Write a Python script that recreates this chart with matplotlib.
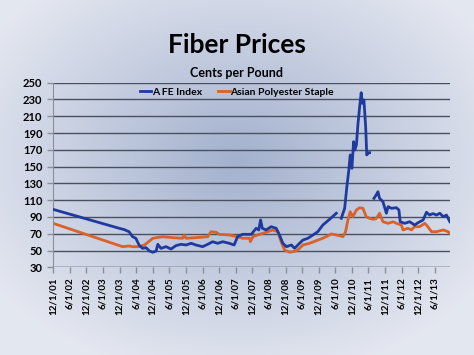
import numpy as np
import pandas as pd
import matplotlib
matplotlib.use('Agg')
from matplotlib import pyplot as plt

# A FE Index (NaN = gaps in the series)
afe_dates = ['2001-12-01', '2003-11-27', '2004-01-20', '2004-03-15', '2004-04-22', '2004-05-28',
             '2004-07-03', '2004-08-10', '2004-09-18', '2004-10-25', '2004-12-01', '2005-01-07',
             '2005-01-25', '2005-03-01', '2005-04-25', '2005-06-20', '2005-08-12', '2005-10-07',
             '2005-12-01', '2006-01-28', '2006-03-20', '2006-06-03', '2006-07-28', '2006-09-20',
             '2006-11-15', '2007-01-10', '2007-03-22', '2007-05-15', '2007-06-22', '2007-08-15',
             '2007-11-20', '2008-01-12', '2008-02-10', '2008-03-01', '2008-03-20', '2008-05-01',
             '2008-06-25', '2008-08-20', '2008-09-25', '2008-11-01', '2008-12-10', '2009-02-03',
             '2009-03-10', '2009-05-03', '2009-06-10', '2009-08-03', '2009-09-28', '2009-11-20',
             '2010-01-15', '2010-03-28', '2010-06-12', '2010-07-10', '2010-08-06', '2010-09-12',
             '2010-10-06', '2010-10-28', '2010-11-12', '2010-12-01', '2010-12-19', '2011-01-01',
             '2011-01-19', '2011-02-06', '2011-02-24', '2011-03-13', '2011-03-25', '2011-04-12',
             '2011-05-01', '2011-05-13', '2011-06-01', '2011-06-13', '2011-07-01', '2011-08-01',
             '2011-08-25', '2011-09-13', '2011-10-01', '2011-11-07', '2011-12-15', '2012-01-03',
             '2012-02-10', '2012-04-03', '2012-05-01', '2012-05-15', '2012-07-03', '2012-08-28',
             '2012-10-20', '2012-11-28', '2013-01-22', '2013-02-28', '2013-04-03', '2013-05-10',
             '2013-06-18', '2013-07-25', '2013-09-01', '2013-10-06', '2013-11-12']
afe_values = [99, 76.5, 75, 72.4, 66.5, 64.6,
              56.6, 52.6, 53.4, 49.4, 47.9, 49.4,
              57.4, 52.6, 54.6, 51.8, 55.8, 57.4,
              56.6, 58.6, 56.6, 54.6, 57.4, 60.5,
              58.6, 60.5, 58.6, 56.6, 66.5, 69.3,
              69.3, 76.5, 74.5, 86.4, 76.5, 74.5,
              78.4, 76.5, 68.5, 58.6, 54.6, 56.6,
              52.6, 58.6, 62.5, 64.6, 68.5, 72.4,
              80.4, 87, 94.4, np.nan, 88.4, 100.3,
              126, 146, 163.9, 148, 179.7, 169.8,
              175.8, 201.6, 221.4, 238.1, 225.5, 229.4,
              197.6, 163.9, 166.6, 166.6, np.nan, 112.2,
              116.2, 120.1, 112.2, 108.2, 94.4, 102.3,
              100.3, 101, 98.3, 84.3, 82.4, 84.3,
              80.4, 83.2, 86.4, 95.6, 92.3, 94,
              92.3, 94.4, 90.3, 92.3, 84.3]

# Asian Polyester Staple
aps_dates = ['2001-12-01', '2004-01-03', '2004-03-15', '2004-04-22', '2004-07-03', '2004-09-01',
             '2004-10-25', '2004-12-01', '2005-03-20', '2005-07-06', '2005-10-25', '2005-11-12',
             '2005-12-01', '2006-03-20', '2006-07-28', '2006-09-03', '2006-10-28', '2006-12-03',
             '2007-03-22', '2007-06-22', '2007-08-15', '2007-11-01', '2007-11-10', '2007-12-07',
             '2008-02-18', '2008-05-01', '2008-07-12', '2008-09-06', '2008-10-13', '2008-11-20',
             '2009-01-15', '2009-03-28', '2009-05-03', '2009-06-10', '2009-08-22', '2009-11-03',
             '2010-01-15', '2010-04-18', '2010-06-12', '2010-08-25', '2010-09-22', '2010-10-18',
             '2010-11-12', '2010-12-12', '2011-01-19', '2011-02-24', '2011-04-01', '2011-05-07',
             '2011-06-13', '2011-07-19', '2011-08-25', '2011-10-01', '2011-11-07', '2012-01-03',
             '2012-02-28', '2012-04-03', '2012-05-28', '2012-06-15', '2012-08-10', '2012-09-15',
             '2012-10-20', '2012-12-15', '2013-02-10', '2013-03-15', '2013-04-25', '2013-06-18',
             '2013-09-01', '2013-10-25', '2013-11-12']
aps_values = [82.4, 54.6, 55.4, 54.6, 54.6, 56.6,
              61.3, 64.6, 66.5, 65.3, 64.6, 68.5,
              64.6, 65.3, 66.5, 72.4, 71.7, 69.3,
              68.5, 66.5, 64.6, 64.6, 60.5, 66.5,
              69.3, 71.7, 74.5, 72.4, 60.5, 50.6,
              47.9, 49.4, 52.6, 56.6, 58.6, 61.7,
              64.6, 69.7, 68.5, 66.5, 72.4, 86.4,
              96.3, 90.3, 98.3, 101, 100.3, 90.3,
              88.4, 87.2, 88, 94.4, 84.3, 82.4,
              84.3, 82.4, 80.4, 74.5, 76.5, 74.5,
              78.4, 78.4, 82.4, 78.4, 72.4, 72.4,
              74.5, 72.4, 70.5]

tick_dates = pd.date_range('2001-12-01', '2013-06-01', freq='6MS')
y_ticks = list(range(30, 251, 20))

W, H = 474, 355
fig = plt.figure(figsize=(W / 100, H / 100), dpi=100)

# radial background: bluish centre, pale edges
bg = fig.add_axes([0, 0, 1, 1], zorder=-10)
yy, xx = np.mgrid[0:H, 0:W]
r = np.sqrt(((xx - W * 0.5) / (W * 0.62)) ** 2 + ((yy - H * 0.45) / (H * 0.62)) ** 2)
r = np.clip(r, 0, 1)[..., None]
inner = np.array([163, 177, 206]) / 255
outer = np.array([228, 231, 240]) / 255
bg.imshow(inner + (outer - inner) * r, aspect='auto', extent=[0, 1, 0, 1])
bg.axis('off')

ax = fig.add_axes([53 / W, 1 - 267.3 / H, (450 - 53) / W, (267.3 - 82.7) / H])
ax.patch.set_alpha(0)

afe_x = pd.to_datetime(afe_dates)
aps_x = pd.to_datetime(aps_dates)
ax.plot(afe_x, afe_values, color='#1F3A9E', lw=2, label='A FE Index', zorder=3)
ax.plot(aps_x, aps_values, color='#D8622A', lw=2, label='Asian Polyester Staple', zorder=2)

ax.set_ylim(30, 250)
ax.set_yticks(y_ticks)
ax.set_xlim(pd.Timestamp('2001-11-29'), pd.Timestamp('2013-11-14'))
ax.set_xticks(tick_dates)
ax.set_xticklabels(['%d/1/%02d' % (d.month, d.year % 100) for d in tick_dates], rotation=90)

ax.grid(axis='y', color='#4A5060', lw=1)
for s in ['top', 'right', 'bottom']:
    ax.spines[s].set_visible(False)
ax.spines['left'].set_color('#8A8F9A')
ax.axhline(30, color='#8A8F9A', lw=1, zorder=1)
ax.tick_params(axis='both', colors='#8A8F9A', labelcolor='black', length=4, width=1)
for lab in ax.get_xticklabels() + ax.get_yticklabels():
    lab.set_fontweight('bold')
    lab.set_family('Lato')
for lab in ax.get_xticklabels():
    lab.set_fontsize(7)
for lab in ax.get_yticklabels():
    lab.set_fontsize(8)

fig.text(0.5, 1 - 45 / H, 'Fiber Prices', ha='center', va='center', fontsize=19,
         fontweight='bold', family='Lato')
fig.text(0.5, 1 - 73 / H, 'Cents per Pound', ha='center', va='center', fontsize=9,
         fontweight='bold', family='Lato')
leg = fig.legend(loc='center', bbox_to_anchor=(0.5, 1 - 92 / H), ncol=2, frameon=False,
                 handlelength=1.1, handletextpad=0.1, columnspacing=1.5,
                 prop={'family': 'Lato', 'weight': 'bold', 'size': 7.5})

fig.savefig('out.png', dpi=100)
